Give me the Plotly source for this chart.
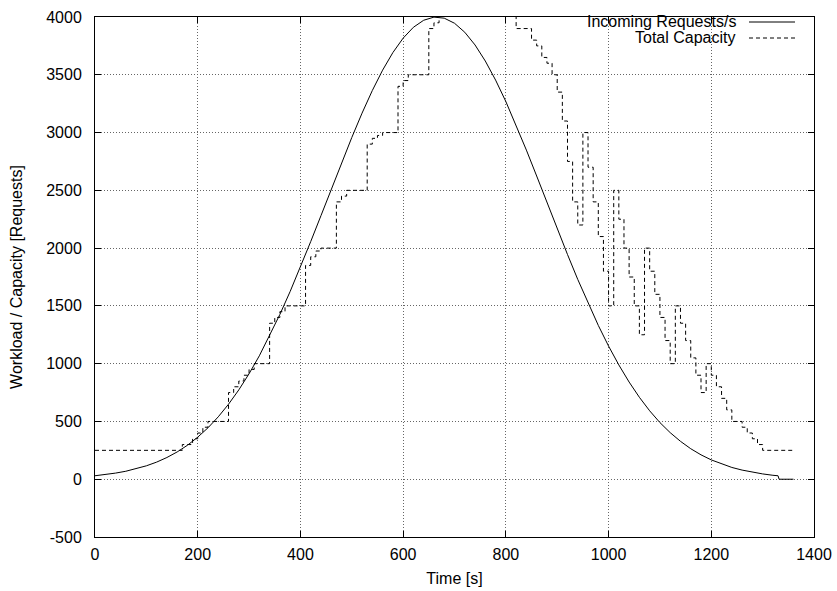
import plotly.graph_objects as go

# ---- Incoming requests per second (solid curve) ----
t_req = [0, 20, 40, 60, 80, 100, 120, 140, 160, 180, 200, 220, 240, 260, 280, 300,
         320, 340, 360, 380, 400, 420, 440, 460, 480, 500, 520, 540, 560, 580, 600,
         620, 640, 660, 680, 700, 720, 740, 760, 780, 800, 820, 840, 860, 880, 900,
         920, 940, 960, 980, 1000, 1020, 1040, 1060, 1080, 1100, 1120, 1140, 1160,
         1180, 1200, 1220, 1240, 1260, 1280, 1300, 1320, 1330, 1332, 1360]
requests = [30, 40, 53, 69, 90, 116, 148, 188, 236, 294, 364, 445, 540, 649, 773, 913,
            1068, 1240, 1426, 1625, 1836, 2056, 2281, 2510, 2737, 2957, 3168, 3364, 3540, 3692, 3817,
            3911, 3972, 3999, 3990, 3946, 3868, 3758, 3619, 3454, 3268, 3064, 2848, 2624, 2395, 2168,
            1945, 1729, 1524, 1331, 1152, 989, 841, 709, 592, 490, 403, 328, 264,
            211, 167, 131, 102, 79, 60, 46, 34, 30, 0, 0]

# ---- Total capacity (dashed step curve) ----
t_cap = [0, 170, 190, 200, 210, 220, 260, 270, 280, 290, 300, 310, 340, 350, 360, 370,
         410, 420, 430, 440, 470, 480, 490, 530, 540, 550, 560, 590, 600, 610, 650, 660,
         670, 760, 790, 820, 850, 860, 870, 880, 890, 900, 910, 920, 930, 940, 950, 960,
         970, 980, 990, 1000, 1010, 1020, 1030, 1040, 1050, 1060, 1070, 1080, 1090, 1100,
         1110, 1120, 1130, 1140, 1150, 1160, 1170, 1180, 1190, 1200, 1210, 1220, 1230,
         1240, 1260, 1270, 1280, 1290, 1300, 1360]
capacity = [250, 300, 350, 400, 450, 500, 750, 800, 850, 900, 950, 1000, 1350, 1400, 1450, 1500,
            1850, 1925, 1975, 2000, 2400, 2450, 2500, 2900, 2950, 2975, 3000, 3400, 3450, 3500, 3900, 3950,
            4400, 4300, 4100, 3900, 3800, 3750, 3650, 3600, 3500, 3350, 3100, 2750, 2400, 2200, 3000, 2700,
            2400, 2100, 1800, 1500, 2500, 2250, 2000, 1750, 1500, 1250, 2000, 1800, 1600, 1400,
            1200, 1000, 1500, 1350, 1200, 1050, 900, 750, 1000, 900, 800, 700, 600,
            500, 450, 400, 350, 300, 250, 250]

x_ticks = [0, 200, 400, 600, 800, 1000, 1200, 1400]
y_ticks = [-500, 0, 500, 1000, 1500, 2000, 2500, 3000, 3500, 4000]
series_names = ["Incoming Requests/s", "Total Capacity"]

FONT = "Liberation Sans, Arial, Helvetica, sans-serif"
FS = 16

fig = go.Figure()
fig.add_trace(go.Scatter(x=t_req, y=requests, mode="lines", name=series_names[0],
                         line=dict(color="black", width=1), showlegend=False))
fig.add_trace(go.Scatter(x=t_cap, y=capacity, mode="lines", name=series_names[1],
                         line=dict(color="black", width=1, dash="4px,3px", shape="hv"),
                         showlegend=False))

axis_common = dict(showline=True, linecolor="black", linewidth=1, mirror="ticks",
                   ticks="inside", ticklen=6, tickcolor="black", tickwidth=1,
                   showgrid=True, gridcolor="#666666", griddash="1px,2px", gridwidth=1,
                   zeroline=False, automargin=False,
                   tickfont=dict(family=FONT, size=FS, color="black"))

fig.update_xaxes(range=[0, 1400], tickvals=x_ticks, ticktext=[str(v) for v in x_ticks],
                 title=dict(text="Time [s]", font=dict(family=FONT, size=FS, color="black"), standoff=10),
                 ticklabelstandoff=3, **axis_common)
fig.update_yaxes(range=[-500, 4000], tickvals=y_ticks, ticktext=[str(v) for v in y_ticks],
                 title=dict(text="Workload / Capacity [Requests]", font=dict(family=FONT, size=FS, color="black"), standoff=19),
                 ticklabelstandoff=9, **axis_common)

# custom legend: right-aligned labels with line samples to their right
def px2paper_x(px):
    return (px - 95) / 719.0

def px2paper_y(py):
    return (537 - py) / 520.0

rows = [(22, "solid"), (38, "4px,3px")]
for (py, dash), name in zip(rows, series_names):
    fig.add_annotation(x=px2paper_x(738), y=px2paper_y(py), xref="paper", yref="paper",
                       text=name, showarrow=False, xanchor="right", yanchor="middle",
                       font=dict(family=FONT, size=FS, color="black"))
    fig.add_shape(type="line", xref="paper", yref="paper",
                  x0=px2paper_x(749), x1=px2paper_x(795), y0=px2paper_y(py), y1=px2paper_y(py),
                  line=dict(color="black", width=1, dash=dash))

fig.update_layout(width=837, height=591, margin=dict(l=95, r=23, t=17, b=54),
                  plot_bgcolor="white", paper_bgcolor="white",
                  font=dict(family=FONT, size=FS, color="black"))

fig.write_html("out.html")
